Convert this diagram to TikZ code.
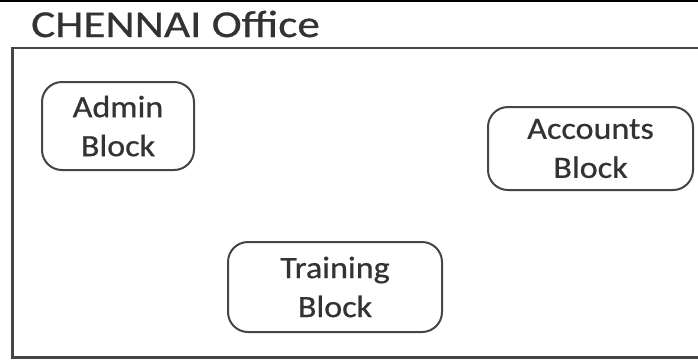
\documentclass[tikz,border=0pt]{standalone}
\usepackage{fontspec}
\setmainfont{Carlito}
\newfontfamily\titlefont[FakeStretch=1.19, FakeBold=0.6]{Carlito}
\newfontfamily\boxfont[FakeStretch=1.1, FakeBold=0.6]{Carlito}
\definecolor{linegray}{HTML}{454545}
\definecolor{textgray}{HTML}{333333}
\tikzset{
  blockbox/.style={draw=linegray, line width=2pt, rounded corners=20pt, fill=white,
    inner sep=0pt, align=center, text=textgray,
    font=\boxfont\fontsize{31}{39}\selectfont},
  frameline/.style={draw=linegray, line width=2.2pt},
}
\begin{document}
\begin{tikzpicture}[x=1pt, y=-1pt]
\useasboundingbox (0,0) rectangle (698,360);
\clip (0,0) rectangle (698,360);
\fill[white] (0,0) rectangle (698,360);
\coordinate (tl) at (0,1);
\coordinate (tr) at (698,1);
\draw[black, line width=1.6pt] (tl) -- (tr);
\node[anchor=base west, inner sep=0pt, text=textgray,
  font=\titlefont\fontsize{38}{44}\selectfont] (title) at (31,37) {CHENNAI Office};
\coordinate (f1) at (720,48);
\coordinate (f2) at (12.5,48);
\coordinate (f3) at (12.5,357.5);
\coordinate (f4) at (720,357.5);
\draw[frameline] (f1) -- (f2) -- (f3) -- (f4);
\node[blockbox, minimum width=152pt, minimum height=88pt] (admin) at (118,126) {Admin\\Block};
\node[blockbox, minimum width=205pt, minimum height=83pt] (accounts) at (590.5,148.5) {Accounts\\Block};
\node[blockbox, minimum width=214pt, minimum height=90pt] (training) at (335,287) {Training\\Block};
\end{tikzpicture}
\end{document}
